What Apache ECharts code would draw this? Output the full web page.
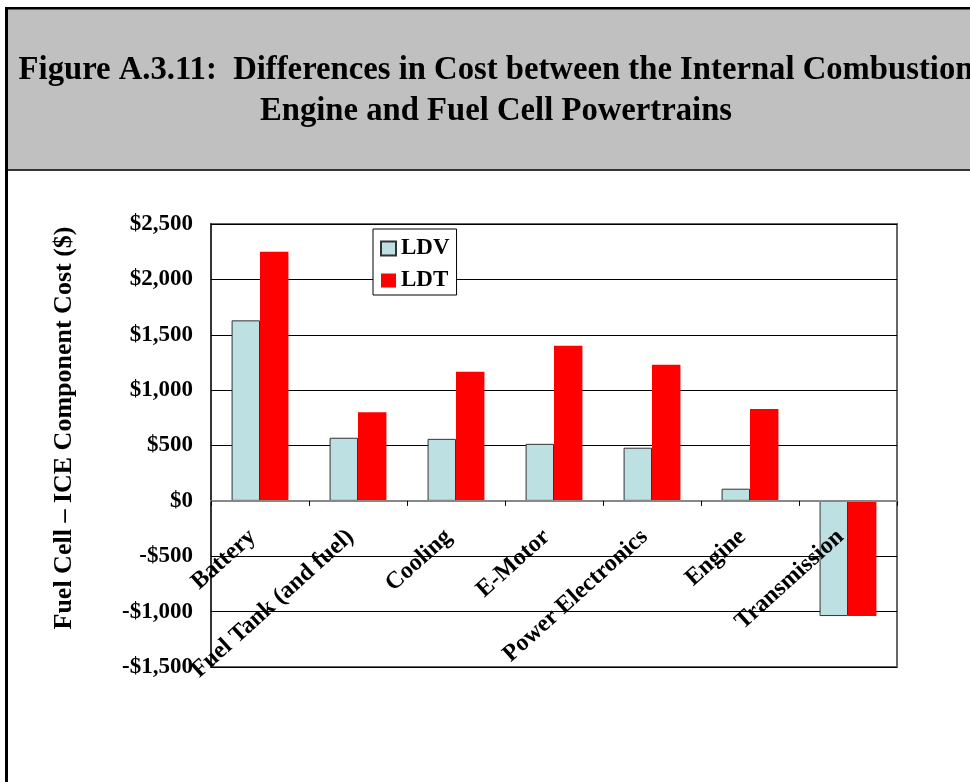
<!DOCTYPE html>
<html>
<head>
<meta charset="utf-8">
<script src="https://cdn.jsdelivr.net/npm/echarts@6/dist/echarts.min.js"></script>
<style>
html,body{margin:0;padding:0;background:#fff;}
#chart{width:970px;height:782px;}
</style>
</head>
<body>
<div id="chart"></div>
<script>
const categories = ["Battery", "Fuel Tank (and fuel)", "Cooling", "E-Motor", "Power Electronics", "Engine", "Transmission"];
const ldvValues = [1630, 570, 560, 515, 480, 110, -1040];
const ldtValues = [2250, 800, 1165, 1400, 1230, 830, -1040];
const seriesNames = ["LDV", "LDT"];
const yMin = -1500, yMax = 2500, yStep = 500;
const titleText = "Figure A.3.11:  Differences in Cost between the Internal Combustion\nEngine and Fuel Cell Powertrains";
const yAxisTitle = "Fuel Cell \u2013 ICE Component Cost ($)";

const serif = "'Liberation Serif', 'Times New Roman', serif";

function money(v) {
  const a = Math.abs(v).toString().replace(/\B(?=(\d{3})+(?!\d))/g, ",");
  return (v < 0 ? "-$" : "$") + a;
}

const chart = echarts.init(document.getElementById('chart'), null, {renderer: 'canvas'});
chart.setOption({
  backgroundColor: '#ffffff',
  animation: false,
  graphic: [
    {type: 'rect', z: -10, shape: {x: 8, y: 9, width: 962, height: 161}, style: {fill: '#c0c0c0'}},
    {type: 'rect', z: -9, shape: {x: 5, y: 7, width: 965, height: 2.5}, style: {fill: '#000'}},
    {type: 'rect', z: -9, shape: {x: 5, y: 7, width: 3, height: 775}, style: {fill: '#000'}},
    {type: 'rect', z: -9, shape: {x: 8, y: 169, width: 962, height: 2}, style: {fill: '#333'}}
  ],
  title: {
    text: titleText,
    left: 496,
    top: 50,
    textAlign: 'center',
    padding: 0,
    textStyle: {
      fontFamily: serif,
      fontWeight: 'bold',
      fontSize: 32.7,
      lineHeight: 41,
      color: '#000'
    }
  },
  legend: {
    data: seriesNames,
    orient: 'vertical',
    left: 373,
    top: 229,
    padding: [8, 7, 3, 7],
    itemGap: 9,
    itemWidth: 15,
    itemHeight: 14,
    icon: 'rect',
    backgroundColor: '#fff',
    borderColor: '#000',
    borderWidth: 1,
    borderRadius: 0,
    textStyle: {fontFamily: serif, fontWeight: 'bold', fontSize: 23, color: '#000'}
  },
  grid: {
    left: 211, top: 224, right: 73, bottom: 115,
    show: true,
    borderColor: '#666',
    borderWidth: 2,
    containLabel: false,
    outerBoundsMode: 'none'
  },
  xAxis: {
    type: 'category',
    data: categories,
    z: 5,
    axisLine: {show: true, onZero: true, lineStyle: {color: '#888', width: 2}},
    axisTick: {show: true, length: 5, lineStyle: {color: '#000', width: 1}},
    axisLabel: {
      interval: 0,
      rotate: 42,
      margin: -140,
      padding: [0, 10, 0, 0],
      fontFamily: serif,
      fontWeight: 'bold',
      fontSize: 24,
      color: '#000'
    },
    splitLine: {show: false}
  },
  yAxis: {
    type: 'value',
    min: yMin,
    max: yMax,
    interval: yStep,
    name: yAxisTitle,
    nameLocation: 'middle',
    nameRotate: 90,
    nameGap: 134,
    nameTextStyle: {fontFamily: serif, fontWeight: 'bold', fontSize: 26, color: '#000', padding: [0, 0, 0, 35]},
    axisLine: {show: true, lineStyle: {color: '#333', width: 2}},
    axisTick: {show: true, inside: true, length: 6, lineStyle: {color: '#000'}},
    axisLabel: {
      margin: 18,
      formatter: money,
      fontFamily: serif,
      fontWeight: 'bold',
      fontSize: 23,
      color: '#000'
    },
    splitLine: {show: true, lineStyle: {color: '#000', width: 1}}
  },
  series: [
    {
      name: seriesNames[0],
      type: 'bar',
      data: ldvValues,
      barGap: '0%',
      barCategoryGap: '42%',
      itemStyle: {color: '#bde0e3', borderColor: '#333', borderWidth: 1}
    },
    {
      name: seriesNames[1],
      type: 'bar',
      data: ldtValues,
      barGap: '0%',
      barCategoryGap: '42%',
      itemStyle: {color: '#ff0000', borderWidth: 0}
    }
  ]
});
</script>
</body>
</html>
